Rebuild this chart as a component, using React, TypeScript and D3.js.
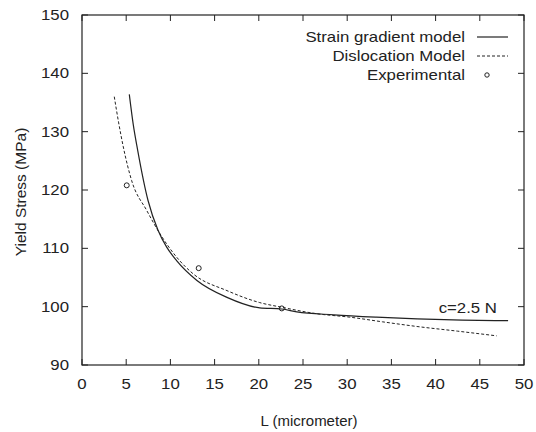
import React from "react";
import * as d3 from "d3";

const xTicks = [0, 5, 10, 15, 20, 25, 30, 35, 40, 45, 50];
const yTicks = [90, 100, 110, 120, 130, 140, 150];

const strainL = [5.35, 5.8, 6.3, 7.47, 8.6, 9.58, 10.7, 13.0, 16.4, 20.1, 22.6, 24.3, 28.5, 33.3, 37.9, 43.0, 48.2];
const strainY = [136.4, 131.2, 126.8, 118.2, 113.1, 110.2, 107.9, 104.5, 101.6, 99.8, 99.6, 99.1, 98.6, 98.2, 97.9, 97.7, 97.6];

const dislocL = [3.65, 4.15, 4.67, 5.62, 7.32, 8.82, 10.7, 12.6, 16.4, 20.1, 22.6, 26.5, 30.3, 34.0, 37.9, 42.5, 46.9];
const dislocY = [136.0, 131.5, 127.4, 121.6, 116.5, 112.5, 108.5, 105.6, 102.75, 100.7, 99.9, 98.8, 98.2, 97.4, 96.6, 95.8, 95.0];

const expL = [5.06, 13.2, 22.6];
const expY = [120.8, 106.6, 99.7];

const legendLabels = ["Strain gradient model", "Dislocation Model", "Experimental"];

const W = 536;
const H = 432;
const x = d3.scaleLinear().domain([0, 50]).range([82, 524]);
const y = d3.scaleLinear().domain([90, 150]).range([365, 15]);

const ink = "#222";
const font = "'Liberation Sans', Arial, Helvetica, sans-serif";
const SX = 1.2;

function SText({ tx, ty, anchor, size = 14, children }: any) {
  return (
    <text
      transform={`translate(${tx},${ty}) scale(${SX},1)`}
      textAnchor={anchor}
      fontSize={size}
      fontFamily={font}
      fill={ink}
    >
      {children}
    </text>
  );
}

export default function App() {
  const line = d3
    .line<[number, number]>()
    .x((d) => x(d[0]))
    .y((d) => y(d[1]))
    .curve(d3.curveMonotoneX);
  const strainPts = strainL.map((l, i) => [l, strainY[i]] as [number, number]);
  const dislocPts = dislocL.map((l, i) => [l, dislocY[i]] as [number, number]);
  const [x0, x1] = x.range();
  const [y0, y1] = y.range();
  const tk = 6;
  return (
    <svg
      width={W}
      height={H}
      style={{ position: "absolute", left: 0, top: 0, background: "#fff" }}
    >
      <rect x={0} y={0} width={W} height={H} fill="#fff" />
      {/* frame */}
      <rect x={x0} y={y1} width={x1 - x0} height={y0 - y1} fill="none" stroke={ink} strokeWidth={1.2} />
      {xTicks.map((t) => (
        <g key={"xt" + t}>
          <line x1={x(t)} x2={x(t)} y1={y0} y2={y0 - tk} stroke={ink} strokeWidth={1} />
          <line x1={x(t)} x2={x(t)} y1={y1} y2={y1 + tk} stroke={ink} strokeWidth={1} />
          <SText tx={x(t)} ty={y0 + 24} anchor="middle">{t}</SText>
        </g>
      ))}
      {yTicks.map((t) => (
        <g key={"yt" + t}>
          <line x1={x0} x2={x0 + tk} y1={y(t)} y2={y(t)} stroke={ink} strokeWidth={1} />
          <line x1={x1} x2={x1 - tk} y1={y(t)} y2={y(t)} stroke={ink} strokeWidth={1} />
          <SText tx={x0 - 13} ty={y(t) + 5} anchor="end">{t}</SText>
        </g>
      ))}
      {/* curves */}
      <path d={line(strainPts) || ""} fill="none" stroke={ink} strokeWidth={1.2} />
      <path d={line(dislocPts) || ""} fill="none" stroke={ink} strokeWidth={1} strokeDasharray="3,2" />
      {expL.map((l, i) => (
        <circle key={"e" + i} cx={x(l)} cy={y(expY[i])} r={2.5} fill="none" stroke={ink} strokeWidth={1} />
      ))}
      {/* legend */}
      {legendLabels.map((lab, i) => {
        const ly = 37 + i * 19;
        return (
          <g key={"lg" + i}>
            <SText tx={465} ty={ly + 5} anchor="end">{lab}</SText>
            {i === 0 && <line x1={477} x2={508} y1={ly} y2={ly} stroke={ink} strokeWidth={1.2} />}
            {i === 1 && <line x1={477} x2={508} y1={ly} y2={ly} stroke={ink} strokeWidth={1} strokeDasharray="3,2" />}
            {i === 2 && <circle cx={487} cy={ly} r={2.2} fill="none" stroke={ink} strokeWidth={1} />}
          </g>
        );
      })}
      <SText tx={497} ty={313} anchor="end">c=2.5 N</SText>
      {/* axis titles */}
      <text x={(x0 + x1) / 2 + 6} y={426} textAnchor="middle" fontSize={15} fontFamily={font} fill={ink}>
        L (micrometer)
      </text>
      <text
        transform={`translate(26,${(y0 + y1) / 2 + 2}) rotate(-90)`}
        textAnchor="middle"
        fontSize={15.5}
        fontFamily={font}
        fill={ink}
      >
        Yield Stress (MPa)
      </text>
    </svg>
  );
}
